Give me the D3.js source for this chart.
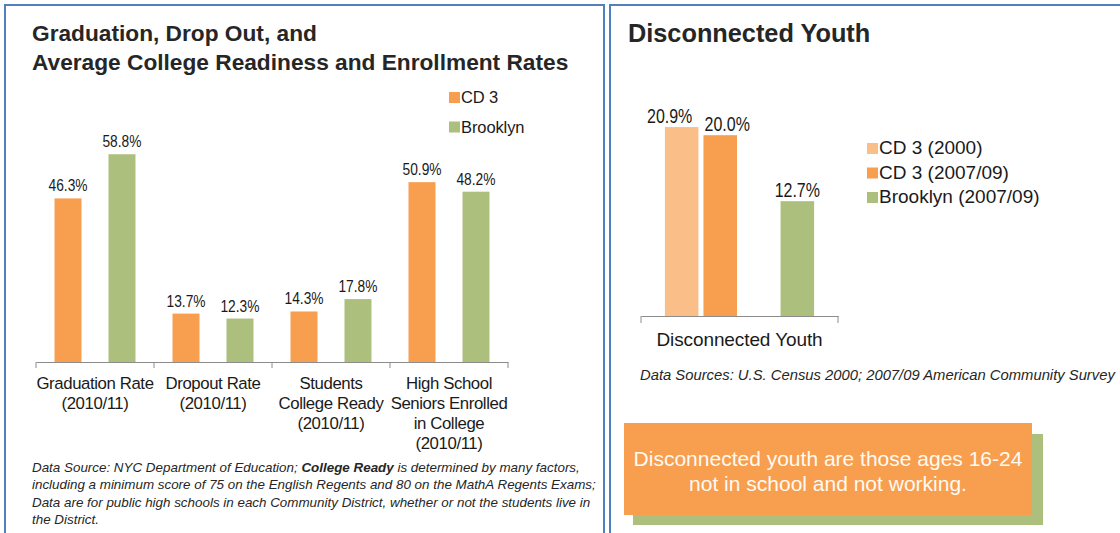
<!DOCTYPE html>
<html><head><meta charset="utf-8">
<script src="https://cdn.jsdelivr.net/npm/d3@7"></script>
<style>
html,body{margin:0;padding:0;background:#fff;}
svg{display:block;font-family:"Liberation Sans",Arial,sans-serif;}
</style></head>
<body>
<svg id="c" width="1120" height="533"></svg>
<script>
// ---- Data ----
const categories = [
  ["Graduation Rate", "(2010/11)"],
  ["Dropout Rate", "(2010/11)"],
  ["Students", "College Ready", "(2010/11)"],
  ["High School", "Seniors Enrolled", "in College", "(2010/11)"]
];
const seriesNames = ["CD 3", "Brooklyn"];
const cd3Values = [46.3, 13.7, 14.3, 50.9];
const brooklynValues = [58.8, 12.3, 17.8, 48.2];

const dyCategory = ["Disconnected Youth"];
const dySeries = ["CD 3 (2000)", "CD 3 (2007/09)", "Brooklyn (2000)", "Brooklyn (2007/09)"];
const dyValues = [20.9, 20.0, null, 12.7];

const orange = "#F79F4F", green = "#ADBF7D", lightOrange = "#FABF89";
const seriesColors = [orange, green];
const dyColors = [lightOrange, orange, green, green];

const svg = d3.select("#c");
const blue = "#4F81BD";

// condense text to mimic the narrow rendering of the original
function condense(sel, f) {
  sel.each(function () {
    const w = this.getComputedTextLength();
    d3.select(this).attr("textLength", w * f).attr("lengthAdjust", "spacingAndGlyphs");
  });
}

// ---- Panel borders ----
svg.append("rect").attr("x", 5).attr("y", 5).attr("width", 599).attr("height", 540)
  .attr("fill", "none").attr("stroke", blue).attr("stroke-width", 2);
svg.append("rect").attr("x", 610).attr("y", 5).attr("width", 540).attr("height", 540)
  .attr("fill", "none").attr("stroke", blue).attr("stroke-width", 2);

// ---- Left chart ----
const L = svg.append("g");
L.append("text").attr("x", 32).attr("y", 41).attr("font-size", 22.7).attr("font-weight", "bold")
  .attr("fill", "#262626").text("Graduation, Drop Out, and");
L.append("text").attr("x", 32).attr("y", 70).attr("font-size", 22.7).attr("font-weight", "bold")
  .attr("fill", "#262626").text("Average College Readiness and Enrollment Rates");

const x0 = d3.scaleBand().domain(d3.range(categories.length)).range([36, 508]).padding(0);
const x1 = d3.scaleBand().domain(seriesNames).range([0, x0.bandwidth()]).paddingInner(0.5).paddingOuter(0.343);
const y = d3.scaleLinear().domain([0, 60]).range([362, 150]);

const vals = [cd3Values, brooklynValues];
const barData = [];
categories.forEach((c, i) => seriesNames.forEach((s, j) => barData.push({i, s, v: vals[j][i], color: seriesColors[j]})));

L.selectAll("rect.bar").data(barData).enter().append("rect").attr("class", "bar")
  .attr("x", d => x0(d.i) + x1(d.s)).attr("width", x1.bandwidth())
  .attr("y", d => y(d.v)).attr("height", d => y(0) - y(d.v)).attr("fill", d => d.color);
L.selectAll("text.val").data(barData).enter().append("text").attr("class", "val")
  .attr("x", d => x0(d.i) + x1(d.s) + x1.bandwidth() / 2).attr("y", d => y(d.v) - 7)
  .attr("text-anchor", "middle").attr("font-size", 17).attr("fill", "#1a1a1a")
  .text(d => d.v.toFixed(1) + "%")
  .call(condense, 0.81);

// axis
const axL = L.append("g").attr("transform", "translate(0,362)")
  .call(d3.axisBottom(x0).tickValues([]).tickSizeOuter(0));
axL.select(".domain").attr("stroke", "#8c8c8c");
const bounds = d3.range(categories.length + 1).map(k => 36 + k * x0.step());
L.selectAll("line.tk").data(bounds).enter().append("line")
  .attr("x1", d => d).attr("x2", d => d).attr("y1", 362).attr("y2", 368).attr("stroke", "#8c8c8c");

categories.forEach((lines, i) => {
  const t = L.append("text").attr("x", x0(i) + x0.bandwidth() / 2).attr("y", 389)
    .attr("text-anchor", "middle").attr("font-size", 16.8).attr("letter-spacing", -0.4).attr("fill", "#1a1a1a");
  lines.forEach((ln, k) => t.append("tspan").attr("x", x0(i) + x0.bandwidth() / 2).attr("dy", k === 0 ? 0 : 20).text(ln));
});

// legend left
seriesNames.forEach((s, j) => {
  L.append("rect").attr("x", 449).attr("y", 92 + j * 29.5).attr("width", 11).attr("height", 11).attr("fill", seriesColors[j]);
  L.append("text").attr("x", 461).attr("y", 103 + j * 29.5).attr("font-size", 16.5).attr("letter-spacing", -0.1)
    .attr("fill", "#1a1a1a").text(s);
});

// footnote
const fn = L.append("text").attr("font-size", 13.4).attr("font-style", "italic").attr("fill", "#262626");
const fnLines = [
  [["Data Source: NYC Department of Education; ", false], ["College Ready", true], [" is determined by many factors,", false]],
  [["including a minimum score of 75 on the English Regents and 80 on the MathA Regents Exams;", false]],
  [["Data are for public high schools in each Community District, whether or not the students live in", false]],
  [["the District.", false]]
];
fnLines.forEach((parts, k) => {
  parts.forEach((p, m) => {
    const ts = fn.append("tspan").text(p[0]).attr("font-weight", p[1] ? "bold" : "normal");
    if (m === 0) ts.attr("x", 32).attr("y", 472 + k * 17.3);
  });
});

// ---- Right chart ----
const R = svg.append("g");
R.append("text").attr("x", 628).attr("y", 42).attr("font-size", 25.3).attr("font-weight", "bold")
  .attr("fill", "#262626").text("Disconnected Youth");

const rx0 = d3.scaleBand().domain(dyCategory).range([641, 838]).padding(0);
const rx1 = d3.scaleBand().domain(dySeries).range([0, rx0.bandwidth()]).paddingInner(0.13).paddingOuter(0.62);
const ry = d3.scaleLinear().domain([0, 25]).range([316, 90]);
const dyData = dySeries.map((s, j) => ({s, v: dyValues[j], color: dyColors[j]})).filter(d => d.v !== null);
const labelNudge = [-12, 7, 0];

R.selectAll("rect.bar").data(dyData).enter().append("rect")
  .attr("x", d => rx0(dyCategory[0]) + rx1(d.s)).attr("width", rx1.bandwidth())
  .attr("y", d => ry(d.v)).attr("height", d => ry(0) - ry(d.v)).attr("fill", d => d.color);
R.selectAll("text.val").data(dyData).enter().append("text")
  .attr("x", (d, k) => rx0(dyCategory[0]) + rx1(d.s) + rx1.bandwidth() / 2 + labelNudge[k]).attr("y", d => ry(d.v) - 4.5)
  .attr("text-anchor", "middle").attr("font-size", 20.5).attr("fill", "#1a1a1a")
  .text(d => d.v.toFixed(1) + "%")
  .call(condense, 0.78);

const axR = R.append("g").attr("transform", "translate(0,316)")
  .call(d3.axisBottom(rx0).tickValues([]).tickSizeOuter(0));
axR.select(".domain").attr("stroke", "#8c8c8c");
rx0.range().forEach(xv => R.append("line").attr("x1", xv).attr("x2", xv).attr("y1", 316).attr("y2", 323).attr("stroke", "#8c8c8c"));
R.append("text").attr("x", rx0(dyCategory[0]) + rx0.bandwidth() / 2).attr("y", 346)
  .attr("text-anchor", "middle").attr("font-size", 19).attr("letter-spacing", -0.1).attr("fill", "#1a1a1a").text(dyCategory[0]);

// legend right
dyData.forEach((d, k) => {
  R.append("rect").attr("x", 867).attr("y", 143 + k * 24.5).attr("width", 11).attr("height", 11).attr("fill", d.color);
  R.append("text").attr("x", 879).attr("y", 154 + k * 24.5).attr("font-size", 19).attr("letter-spacing", 0)
    .attr("fill", "#1a1a1a").text(d.s);
});

R.append("text").attr("x", 640).attr("y", 380).attr("font-size", 14.8).attr("font-style", "italic")
  .attr("fill", "#262626").text("Data Sources: U.S. Census 2000; 2007/09 American Community Survey");

// callout box
R.append("rect").attr("x", 633).attr("y", 434).attr("width", 410).attr("height", 91).attr("fill", green);
R.append("rect").attr("x", 624).attr("y", 423).attr("width", 408).attr("height", 92).attr("fill", orange);
const cb = R.append("text").attr("text-anchor", "middle").attr("font-size", 21).attr("fill", "#fffaf3");
cb.append("tspan").attr("x", 828).attr("y", 466).text("Disconnected youth are those ages 16-24");
cb.append("tspan").attr("x", 828).attr("y", 491).text("not in school and not working.");
</script>
</body></html>
